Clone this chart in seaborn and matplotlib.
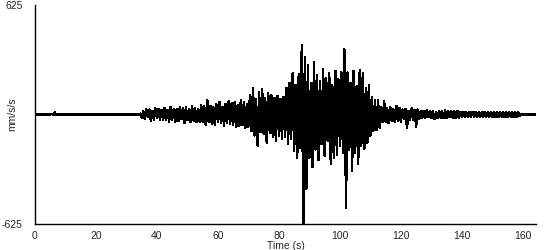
import numpy as np
import pandas as pd
import matplotlib
matplotlib.use("Agg")
import matplotlib.pyplot as plt
import seaborn as sns

# sample interval (s)
sample_dt = 0.5

# ground acceleration (mm/s/s)
quiet_start = [0] * 11
pre_event = [4, -4, 12, -4, 3, -4, 4, -3, 4, -4, 3, -4, 4, -3, 4, -4, 3, -4, 4, -3,
             4, -4, 3, -4, 4, -3, 4, -4, 3, -4, 4, -3, 4, -4, 3, -4, 4, -3, 4, -4,
             3, -4, 4, -3, 4, -4, 3, -4, 4, -3, 4, -4, 3, -4, 4, -3, 4, -4, 5]
p_onset = [-18, 22, -25, 30, -15, 28, -35, 20, -30, 35, -22, 30, -28, 25, -33,
           38, -30, 25, -40, 45, -28, 32, -45, 30, -38, 42, -25, 35, -48, 40, -30, 28, -42, 50, -35, 38, -45, 30, -40,
           55, -40, 48, -60, 85, -45, 50, -55, 40, -62, 58, -45, 70, -50, 45, -65, 60, -48, 75, -55,
           65, -58, 70, -72, 55, -65, 80, -60, 68, -75, 62, -70]
s_build = [110, -95, 150, -120, 90, -178, 130, -100, 145, -110, 95, -160, 120, -105,
           110, -130, 95, -150, 105, -120, 90, -140, 100, -125,
           150, -170, 180, -140, 235, -206, 170, -246, 230, -190]
strong_motion = [395, -625, 326, -424,
                 280, -246, 180, -300, 300, -200, 225, -260, 190, -170, 260, -235, 210,
                 -150, 235, -280, 170, -246, 250, -230, 200, -180, 240, -220,
                 372, -533,
                 240, -200, 180, -321, 250, -220, 160, -280, 252, -180,
                 235, -195, 150, -160, 170, -120]
coda = [97, -92, 85, -90, 80, -75,
        40, -45, 75, -40, 35, -50, 45, -38, 30, -42, 50, -35, 38, -45,
        28, -25, 30, -75, 22, -28, 35, -30, 25, -70, 28, -25,
        20, -18, 22, -20, 25, -15, 18, -22, 20, -25, 15, -20, 22, -18, 20, -22, 25, -20, 18, -15,
        22, -20, 18, -22, 20, -18,
        15, -12, 14, -16, 12, -15, 16, -13, 15, -12, 14, -16, 13, -15, 12, -14, 16, -12, 15, -13,
        14, -15, 12, -16, 15, -13, 14, -12, 16, -15, 13, -14, 15, -12, 14, -16, 12, -15, 13, -10]
quiet_end = [0] * 10

accel = quiet_start + pre_event + p_onset + s_build + strong_motion + coda + quiet_end
time_s = np.arange(len(accel)) * sample_dt

df = pd.DataFrame({"Time (s)": time_s, "mm/s/s": accel})

sns.set_style("white")
plt.rcParams["font.family"] = ["Liberation Sans", "DejaVu Sans"]
plt.rcParams["axes.unicode_minus"] = False

fig = plt.figure(figsize=(5.5, 2.5), dpi=100)
ax = fig.add_axes([0.0636, 0.104, 0.9109, 0.876])
sns.lineplot(data=df, x="Time (s)", y="mm/s/s", color="black", linewidth=1.0,
             estimator=None, sort=False, ax=ax, antialiased=False)

ax.set_xlim(0, 164.3)
ax.set_ylim(-625, 625)
ax.set_xticks([0, 20, 40, 60, 80, 100, 120, 140, 160])
ax.set_yticks([-625, 625])
ax.tick_params(axis="both", labelsize=7.5, length=4, width=1, direction="out",
               color="black", pad=1)
ax.tick_params(axis="y", length=0, pad=9)
for side in ["top", "right"]:
    ax.spines[side].set_visible(False)
for side in ["left", "bottom"]:
    ax.spines[side].set_color("black")
    ax.spines[side].set_linewidth(1)
ax.set_xlabel("Time (s)", fontsize=7.5, labelpad=0)
ax.set_ylabel("mm/s/s", fontsize=7.5)
ax.yaxis.set_label_coords(-0.035, 0.5)

fig.savefig("out.png", dpi=100, facecolor="white")
